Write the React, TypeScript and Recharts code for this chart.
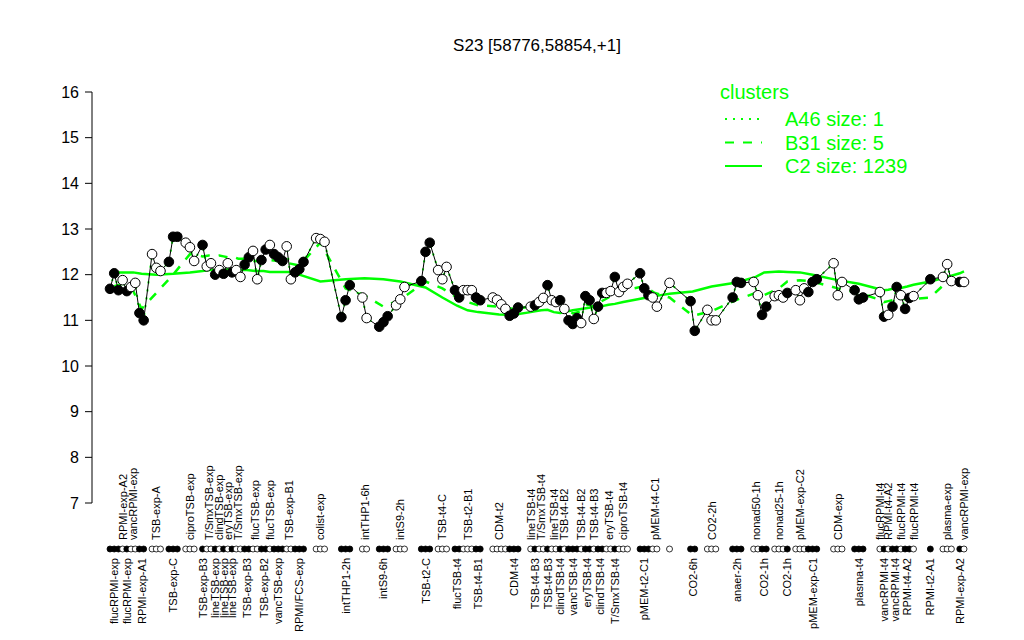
import React from "react";
import { ComposedChart, Line, XAxis, YAxis } from "recharts";

// conditions in plotting order, one entry per group of samples
const conditions = [
  "flucRPMI-exp", "RPMI-exp-A2", "flucRPMI-exp", "vancRPMI-exp", "RPMI-exp-A1",
  "TSB-exp-A", "TSB-exp-C", "ciproTSB-exp", "TSB-exp-B3", "T/SmxTSB-exp",
  "lineTSB-exp", "clindTSB-exp", "lineTSB-exp", "eryTSB-exp", "lineTSB-exp",
  "T/SmxTSB-exp", "TSB-exp-B3", "flucTSB-exp", "TSB-exp-B2", "flucTSB-exp",
  "vancTSB-exp", "TSB-exp-B1", "RPMI/FCS-exp", "colist-exp", "intTHP1-2h",
  "intTHP1-6h", "intS9-6h", "intS9-2h", "TSB-t2-C", "TSB-t4-C",
  "flucTSB-t4", "TSB-t2-B1", "TSB-t4-B1", "CDM-t2", "CDM-t4",
  "lineTSB-t4", "TSB-t4-B3", "T/SmxTSB-t4", "TSB-t4-B3", "lineTSB-t4",
  "clindTSB-t4", "TSB-t4-B2", "vancTSB-t4", "TSB-t4-B2", "eryTSB-t4",
  "TSB-t4-B3", "clindTSB-t4", "eryTSB-t4", "T/SmxTSB-t4", "ciproTSB-t4",
  "pMEM-t2-C1", "pMEM-t4-C1", "", "CO2-6h", "CO2-2h",
  "anaer-2h", "nonad50-1h", "CO2-1h", "nonad25-1h", "CO2-1h",
  "pMEM-exp-C2", "pMEM-exp-C1", "CDM-exp", "plasma-t4", "flucRPMI-t4",
  "vancRPMI-t4", "RPMI-t4-A2", "vancRPMI-t4", "flucRPMI-t4", "RPMI-t4-A2",
  "flucRPMI-t4", "RPMI-t2-A1", "plasma-exp", "RPMI-exp-A2", "vancRPMI-exp",
];

// F = filled marker (label below), O = open marker (label above)
const markers = [
  "F", "O", "F", "O", "F", "O", "F", "O", "F", "O",
  "F", "O", "F", "O", "F", "O", "F", "O", "F", "O",
  "F", "O", "F", "O", "F", "O", "F", "O", "F", "O",
  "F", "O", "F", "O", "F", "O", "F", "O", "F", "O",
  "F", "O", "F", "O", "F", "O", "F", "O", "F", "O",
  "F", "O", "O", "F", "O", "F", "O", "F", "O", "F",
  "O", "F", "O", "F", "O", "F", "O", "F", "O", "F",
  "O", "F", "O", "F", "O",
];

// empty sample slots before each condition
const gapBefore = [
  0, 0, 0, 0, 0, 1, 1, 1, 1, 0,
  0, 0, 0, 0, 0, 0, 0, 0, 0, 0,
  0, 0, 0, 2, 3, 2, 2, 1, 3, 1,
  1, 0, 0, 2, 0, 2, 0, 0, 0, 0,
  0, 0, 0, 0, 0, 0, 0, 0, 0, 0,
  2, 0, 2, 4, 2, 3, 2, 0, 1, 0,
  1, 0, 3, 2, 3, 0, 0, 0, 0, 0,
  0, 3, 2, 1, 0,
];

// expression per sample, grouped by condition
const values = [
  [11.69, 12.03, 11.66], [11.88], [11.64], [11.73, 11.82], [11.16, 11.0],
  [12.45, 12.15, 12.08], [12.28, 12.83, 12.83], [12.7, 12.6, 12.3], [12.65], [12.18, 12.25],
  [12.0], [12.1], [12.02], [12.25], [12.05],
  [12.1, 11.95], [12.22, 12.38], [12.52, 11.9], [12.32, 12.55], [12.65],
  [12.45, 12.38, 12.3], [12.62, 11.9], [12.05, 12.12, 12.28], [12.8, 12.78, 12.72], [11.07, 11.44, 11.77],
  [11.5, 11.05], [10.86, 10.96, 11.09], [11.33, 11.46, 11.73], [11.86, 12.5, 12.7], [12.1, 11.9, 12.17],
  [11.66, 11.5], [11.66, 11.66, 11.66], [11.5, 11.44], [11.5, 11.45, 11.35, 11.25], [11.1, 11.15, 11.28],
  [11.3], [11.33], [11.4, 11.49], [11.77], [11.44, 11.4],
  [11.44], [11.25], [11.0, 10.92, 11.05], [10.94], [11.53, 11.44],
  [11.03], [11.3, 11.6], [11.6, 11.64], [11.95], [11.62, 11.73, 11.8],
  [12.03, 11.7, 11.55], [11.5, 11.3], [11.82], [11.42, 10.77], [11.23, 11.0, 11.0],
  [11.5, 11.84, 11.82], [11.84, 11.55], [11.12, 11.3], [11.53, 11.55, 11.5], [11.6],
  [11.66, 11.44, 11.7], [11.62, 11.84, 11.9], [12.25, 11.55, 11.84], [11.66, 11.46, 11.5], [11.62],
  [11.08], [11.12], [11.3, 11.73], [11.55], [11.25, 11.49],
  [11.53], [11.9], [11.95, 12.23, 11.86], [11.84], [11.84],
];

// cluster mean profiles, one value per condition
const clusterC2 = [
  12.05, 12.05, 12.05, 12.05, 12.02, 12.0, 12.02, 12.05, 12.08, 12.1,
  12.1, 12.1, 12.1, 12.12, 12.1, 12.1, 12.1, 12.08, 12.08, 12.06,
  12.06, 12.06, 12.0, 11.85, 11.9, 11.92, 11.9, 11.85, 11.72, 11.5,
  11.32, 11.22, 11.18, 11.13, 11.12, 11.18, 11.2, 11.22, 11.23, 11.18,
  11.16, 11.18, 11.22, 11.25, 11.27, 11.29, 11.3, 11.34, 11.36, 11.4,
  11.49, 11.53, 11.58, 11.63, 11.74, 11.83, 11.95, 12.05, 12.07, 12.06,
  12.05, 12.0, 11.88, 11.8, 11.68, 11.66, 11.67, 11.7, 11.71, 11.74,
  11.78, 11.85, 11.95, 12.03, 12.07,
];

const clusterB31 = [
  11.75, 11.8, 11.7, 11.65, 11.25, 11.6, 12.0, 12.45, 12.4, 12.42,
  12.4, 12.42, 12.4, 12.38, 12.4, 12.35, 12.35, 12.3, 12.3, 12.32,
  12.3, 12.25, 12.2, 12.7, 11.7, 11.55, 11.3, 11.45, 11.85, 11.7,
  11.5, 11.4, 11.33, 11.3, 11.25, 11.3, 11.32, 11.38, 11.45, 11.4,
  11.38, 11.3, 11.15, 11.2, 11.35, 11.3, 11.4, 11.5, 11.6, 11.65,
  11.75, 11.6, 11.5, 11.1, 11.2, 11.45, 11.6, 11.55, 11.7, 11.85,
  11.88, 11.85, 11.7, 11.6, 11.45, 11.4, 11.42, 11.45, 11.48, 11.45,
  11.47, 11.5, 11.85, 11.9, 11.9,
];

const yTicks = [7, 8, 9, 10, 11, 12, 13, 14, 15, 16];

const legendItems = [
  { name: "A46 size: 1", dash: "2 6" },
  { name: "B31 size: 5", dash: "9 9" },
  { name: "C2 size: 1239", dash: undefined },
];

const GREEN = "#00ff00";
const FONT = "'Liberation Sans', Arial, Helvetica, sans-serif";
const W = 1024;
const H = 640;
const PLOT_TOP = 92;
const PLOT_BOTTOM = 503;
const PLOT_LEFT = 92;
const PLOT_RIGHT = 982;
const RUG_Y = PLOT_BOTTOM + 46;

type Sample = { x: number; value: number; open: boolean };
type Center = { x: number; label: string; open: boolean; c2: number; b31: number };

const samples: Sample[] = [];
const centers: Center[] = [];
{
  let slot = 0;
  conditions.forEach((name, i) => {
    slot += gapBefore[i];
    const start = slot;
    values[i].forEach((v) => {
      samples.push({ x: slot, value: v, open: markers[i] === "O" });
      slot += 1;
    });
    centers.push({
      x: (start + slot - 1) / 2,
      label: name,
      open: markers[i] === "O",
      c2: clusterC2[i],
      b31: clusterB31[i],
    });
  });
}

const lastSlot = samples[samples.length - 1].x;
const pad = (lastSlot * 18) / 854;
const sampleByX = new Map(samples.map((s) => [s.x.toFixed(2), s]));
const centerByX = new Map(centers.map((c) => [c.x.toFixed(2), c]));
const xTicks = Array.from(
  new Set([...samples.map((s) => s.x), ...centers.map((c) => c.x)])
).sort((a, b) => a - b);

const c2Line = centers.map((c) => ({ x: c.x, value: c.c2 }));
const b31Line = centers.map((c) => ({ x: c.x, value: c.b31 }));

function RugTick(props: any) {
  const { x, payload } = props;
  const key = Number(payload.value).toFixed(2);
  const s = sampleByX.get(key);
  const c = centerByX.get(key);
  return (
    <g>
      {s && (
        <circle
          cx={x}
          cy={RUG_Y}
          r={3}
          fill={s.open ? "#fff" : "#000"}
          stroke="#000"
          strokeWidth={0.8}
        />
      )}
      {c && c.label && (
        <text
          transform={`translate(${x},${c.open ? RUG_Y - 9 : RUG_Y + 9}) rotate(-90)`}
          textAnchor={c.open ? "start" : "end"}
          dominantBaseline="central"
          fontSize={11}
          fontFamily={FONT}
          fill="#000"
        >
          {c.label}
        </text>
      )}
    </g>
  );
}

function SampleDot(props: any) {
  const { cx, cy, payload, index } = props;
  if (cx == null || cy == null) return <g key={index} />;
  return (
    <circle
      key={index}
      cx={cx}
      cy={cy}
      r={4.8}
      fill={payload.open ? "#fff" : "#000"}
      stroke="#000"
      strokeWidth={1}
    />
  );
}

function ClusterLegend() {
  return (
    <svg width={230} height={110} style={{ fontFamily: FONT, display: "block" }}>
      <text x={5} y={14} fontSize={20} fill={GREEN} dominantBaseline="central">
        clusters
      </text>
      {legendItems.map((item, i) => {
        const y = 41 + i * 23.5;
        return (
          <g key={item.name}>
            <line
              x1={10}
              x2={47}
              y1={y}
              y2={y}
              stroke={GREEN}
              strokeWidth={2}
              strokeDasharray={item.dash}
            />
            <text x={70} y={y} fontSize={20} fill={GREEN} dominantBaseline="central">
              {item.name}
            </text>
          </g>
        );
      })}
    </svg>
  );
}

export default function App() {
  return (
    <div
      style={{
        position: "absolute",
        left: 0,
        top: 0,
        width: W,
        height: H,
        background: "#fff",
        fontFamily: FONT,
      }}
    >
      <div
        style={{
          position: "absolute",
          left: 0,
          width: PLOT_LEFT + PLOT_RIGHT,
          top: 36,
          textAlign: "center",
          fontSize: 17,
          color: "#000",
        }}
      >
        S23 [58776,58854,+1]
      </div>
      <div style={{ position: "absolute", left: 715, top: 78, zIndex: 2 }}>
        <ClusterLegend />
      </div>
      <ComposedChart
        width={W}
        height={H}
        margin={{ top: PLOT_TOP, right: W - PLOT_RIGHT, bottom: H - PLOT_BOTTOM - 30, left: PLOT_LEFT - 40 }}
      >
        <XAxis
          dataKey="x"
          type="number"
          domain={[-pad, lastSlot + pad]}
          ticks={xTicks}
          interval={0}
          height={30}
          axisLine={false}
          tickLine={false}
          tick={<RugTick />}
          allowDataOverflow
        />
        <YAxis
          type="number"
          domain={[7, 16]}
          ticks={yTicks}
          width={40}
          interval={0}
          tickSize={7}
          tickMargin={6}
          axisLine={{ stroke: "#000", strokeWidth: 1 }}
          tickLine={{ stroke: "#000", strokeWidth: 1 }}
          tick={{ fill: "#000", fontSize: 16, fontFamily: FONT }}
          allowDataOverflow
        />
        <Line
          data={samples}
          dataKey="value"
          name="A46"
          stroke={GREEN}
          strokeWidth={2}
          strokeDasharray="2 6"
          dot={false}
          activeDot={false}
          isAnimationActive={false}
        />
        <Line
          data={b31Line}
          dataKey="value"
          name="B31"
          stroke={GREEN}
          strokeWidth={2.5}
          strokeDasharray="9 9"
          dot={false}
          activeDot={false}
          isAnimationActive={false}
        />
        <Line
          data={c2Line}
          dataKey="value"
          name="C2"
          stroke={GREEN}
          strokeWidth={2.5}
          dot={false}
          activeDot={false}
          isAnimationActive={false}
        />
        <Line
          data={samples}
          dataKey="value"
          name="S23"
          stroke="#000"
          strokeWidth={1}
          dot={<SampleDot />}
          activeDot={false}
          isAnimationActive={false}
        />
      </ComposedChart>
    </div>
  );
}
